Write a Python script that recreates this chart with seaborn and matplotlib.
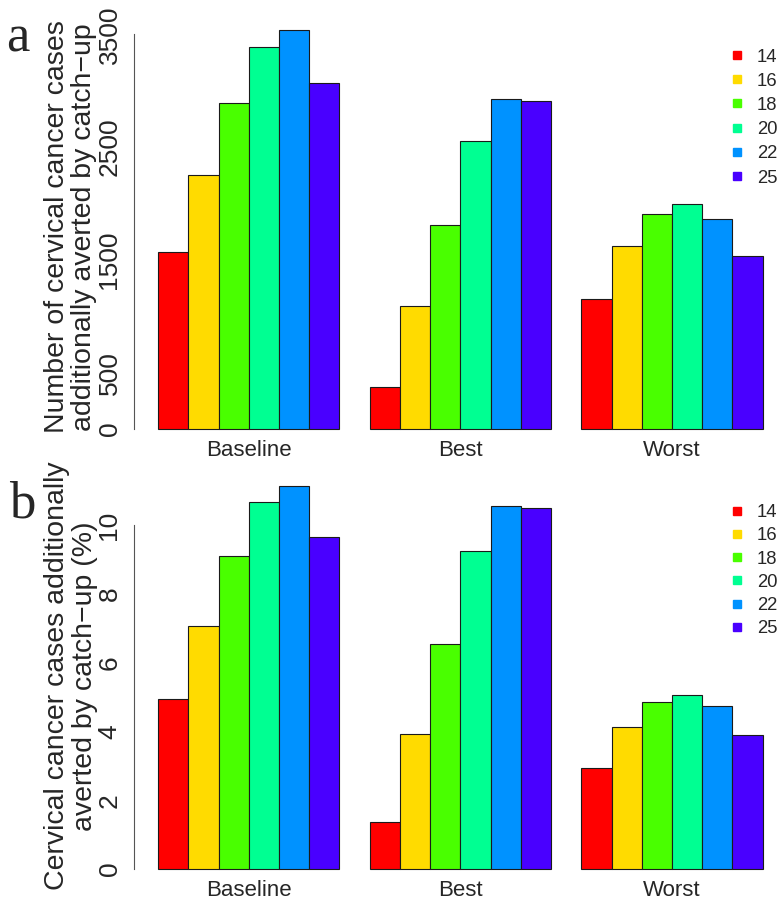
import numpy as np
import pandas as pd
import matplotlib
matplotlib.use("Agg")
import matplotlib.pyplot as plt
from matplotlib.lines import Line2D
import seaborn as sns

# ================= DATA =================
scenarios = ["Baseline", "Best", "Worst"]
ages = ["14", "16", "18", "20", "22", "25"]

cases_baseline = [1566, 2249, 2893, 3389, 3543, 3073]
cases_best = [375, 1090, 1806, 2553, 2923, 2908]
cases_worst = [1152, 1620, 1909, 1992, 1862, 1534]

pct_baseline = [4.93, 7.06, 9.09, 10.66, 11.12, 9.65]
pct_best = [1.36, 3.93, 6.53, 9.24, 10.56, 10.50]
pct_worst = [2.93, 4.13, 4.85, 5.06, 4.73, 3.90]

a_ticks = [0, 500, 1000, 1500, 2000, 2500, 3000, 3500]
a_ticklabels = ["0", "500", "", "1500", "", "2500", "", "3500"]
b_ticks = [0, 2, 4, 6, 8, 10]
b_ticklabels = ["0", "2", "4", "6", "8", "10"]

# first 6 colours of R rainbow(7)
colors = ["#FF0000", "#FFDB00", "#49FF00", "#00FF92", "#0092FF", "#4900FF"]
palette = dict(zip(ages, colors))


def long_table(baseline, best, worst):
    rows = []
    for scen, vals in zip(scenarios, [baseline, best, worst]):
        for age, v in zip(ages, vals):
            rows.append({"scenario": scen, "age": age, "value": v})
    return pd.DataFrame(rows)


df_a = long_table(cases_baseline, cases_best, cases_worst)
df_b = long_table(pct_baseline, pct_best, pct_worst)

# ================= STYLE =================
sns.set_style("white")
plt.rcParams["font.family"] = ["Liberation Sans", "DejaVu Sans"]

W, H = 782, 902
fig = plt.figure(figsize=(W / 100, H / 100), dpi=100)


def make_axes(top_px, bottom_px, left_px=134, right_px=782):
    return fig.add_axes([left_px / W, 1 - bottom_px / H,
                         (right_px - left_px) / W, (bottom_px - top_px) / H])


# category 0 centre at 248.8 px, 211.6 px per category
xlim = ((134 - 248.8) / 211.6, (782 - 248.8) / 211.6)

panels = [
    dict(df=df_a, top=11, bottom=430.7, ylim=(-15, 3708), ticks=a_ticks,
         ticklabels=a_ticklabels, spine=(0, 3500),
         ylabel="Number of cervical cancer cases\nadditionally averted by catch\u2212up",
         label_y=227, letter="a", letter_y=52, letter_x=6,
         leg_top=48.5, leg_space=0.39),
    dict(df=df_b, top=463.1, bottom=870.7, ylim=(-0.05, 11.8), ticks=b_ticks,
         ticklabels=b_ticklabels, spine=(0, 10),
         ylabel="Cervical cancer cases additionally\naverted by catch\u2212up (%)",
         label_y=676, letter="b", letter_y=517, letter_x=9,
         leg_top=504, leg_space=0.34),
]

for p in panels:
    ax = make_axes(p["top"], p["bottom"])
    sns.barplot(data=p["df"], x="scenario", y="value", hue="age",
                hue_order=ages, order=scenarios, palette=palette,
                width=6 / 7, errorbar=None, saturation=1, legend=False,
                edgecolor="#1a1a1a", linewidth=0.8, ax=ax)
    ax.set_xlim(*xlim)
    ax.set_ylim(*p["ylim"])
    ax.set_xlabel("")

    for s in ["top", "right", "bottom"]:
        ax.spines[s].set_visible(False)
    ax.spines["left"].set_bounds(*p["spine"])
    ax.spines["left"].set_color("#555555")
    ax.spines["left"].set_linewidth(0.8)

    ax.set_yticks(p["ticks"])
    ax.set_yticklabels(p["ticklabels"])
    ax.tick_params(axis="y", direction="out", length=5, width=0.8,
                   color="#555555", labelsize=19, pad=4, labelrotation=90)
    for lab in ax.get_yticklabels():
        lab.set_va("center")
    ax.tick_params(axis="x", length=0, labelsize=16, pad=6.5)

    ax.set_ylabel(p["ylabel"], fontsize=20.5, linespacing=1.05,
                  va="center", ha="center")
    ax.yaxis.set_label_coords((71 - 134) / (782 - 134),
                              (p["bottom"] - p["label_y"]) / (p["bottom"] - p["top"]))

    handles = [Line2D([], [], marker="s", linestyle="", markersize=6.2,
                      color=c) for c in colors]
    ax.legend(handles=handles, labels=ages, loc="upper left",
              bbox_to_anchor=(730 / W, 1 - p["leg_top"] / H),
              bbox_transform=fig.transFigure, frameon=False,
              fontsize=13.3, handlelength=0.8, handletextpad=0.65,
              labelspacing=p["leg_space"], borderpad=0, borderaxespad=0)

    fig.text(p["letter_x"] / W, 1 - p["letter_y"] / H, p["letter"],
             family=["Liberation Serif", "DejaVu Serif"], fontsize=38,
             va="baseline", ha="left")

fig.savefig("out.png", dpi=100)
